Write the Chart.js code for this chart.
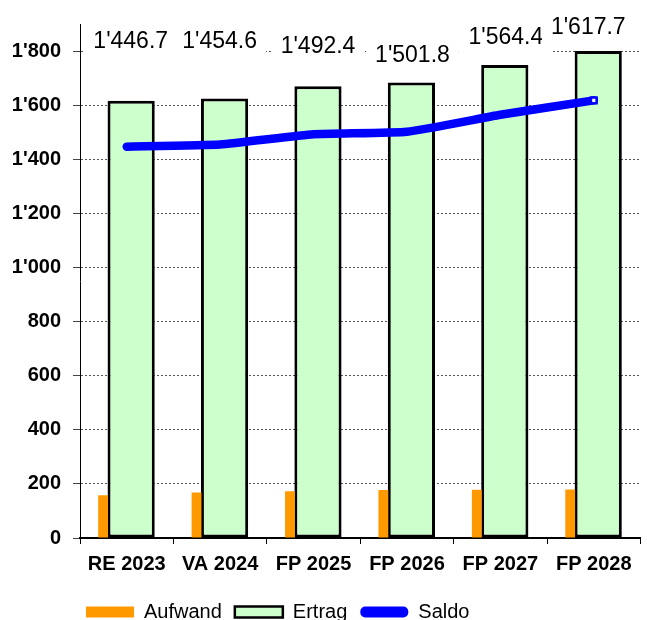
<!DOCTYPE html>
<html><head><meta charset="utf-8">
<script src="https://cdn.jsdelivr.net/npm/chart.js@4"></script>
<style>
html,body{margin:0;padding:0;background:#fff;overflow:hidden}
#wrap{position:relative;width:647px;height:632px}
</style></head>
<body><div id="wrap"><canvas id="c"></canvas></div>
<script>
const categories = ['RE 2023','VA 2024','FP 2025','FP 2026','FP 2027','FP 2028'];
const aufwand = [158, 168, 173, 177, 178, 179];
const ertrag = [1616, 1625, 1670, 1684, 1748, 1800];
const saldo = [1446.7, 1454.6, 1492.4, 1501.8, 1564.4, 1617.7];
const yTicks = [0, 200, 400, 600, 800, 1000, 1200, 1400, 1600, 1800];

function fmt(v, d) {
  const s = Number(v).toFixed(d);
  const parts = s.split('.');
  parts[0] = parts[0].replace(/\B(?=(\d{3})+(?!\d))/g, "'");
  return parts.join('.');
}

// label placement (pixels) relative to category centre / Ertrag bar top
const labelDx = [4, -0.5, 4.5, 5.5, 5.5, -5.5];
const labelLift = [61, 59, 41, 29, 29, 25];

const saldoLabelPlugin = {
  id: 'saldoLabels',
  afterLayout(chart) {
    // legend starts a little left of the plot area, like the original
    if (chart.legend) { chart.legend.left = 73; }
  },
  afterDatasetsDraw(chart) {
    const ctx = chart.ctx;
    const meta = chart.getDatasetMeta(1);
    const xs = chart.scales.x;
    ctx.save();
    ctx.font = '23px "Liberation Sans", Arial, sans-serif';
    ctx.textAlign = 'center';
    ctx.textBaseline = 'alphabetic';
    saldo.forEach((v, i) => {
      const x = xs.getPixelForValue(i) + labelDx[i];
      const cy = meta.data[i].y - labelLift[i];
      const t = fmt(v, 1);
      const w = ctx.measureText(t).width;
      ctx.fillStyle = '#fff';
      ctx.fillRect(x - w / 2 - 9, cy - 16, w + 18, 32);
      ctx.fillStyle = '#000';
      ctx.fillText(t, x, cy + 8.2);
    });
    ctx.restore();
  }
};

Chart.defaults.font.family = '"Liberation Sans", Arial, sans-serif';
Chart.defaults.color = '#000';

new Chart(document.getElementById('c'), {
  data: {
    labels: categories,
    datasets: [
      {
        type: 'bar', label: 'Aufwand', data: aufwand,
        backgroundColor: '#ff9900', borderWidth: 0,
        categoryPercentage: 1.0105, barPercentage: 0.2083, order: 1
      },
      {
        type: 'bar', label: 'Ertrag', data: ertrag,
        backgroundColor: '#ccffcc', borderColor: '#000', borderWidth: 3, borderSkipped: false,
        categoryPercentage: 0.1895, barPercentage: 5.333, order: 1
      },
      {
        type: 'line', label: 'Saldo', data: saldo,
        borderColor: '#0000ff', backgroundColor: '#0000ff', borderWidth: 8.5,
        tension: 0.15, borderCapStyle: 'round', borderJoinStyle: 'round',
        pointStyle: 'rect',
        pointRadius: c => c.dataIndex === saldo.length - 1 ? 4 : 0,
        pointBackgroundColor: '#fff', pointBorderColor: '#0000ff', pointBorderWidth: 2.5,
        order: 0
      }
    ]
  },
  options: {
    responsive: true,
    maintainAspectRatio: false,
    animation: false,
    layout: { padding: { left: 0, right: -3, top: 22, bottom: 0 } },
    scales: {
      x: {
        offset: true,
        grid: { offset: true, drawOnChartArea: false, drawTicks: true, tickLength: 6, color: '#000' },
        border: { color: '#000', width: 2 },
        ticks: { font: { size: 20, weight: 'bold' }, color: '#000', padding: 8, maxRotation: 0, autoSkip: false },
        afterFit: s => { s.height = 51; }
      },
      y: {
        min: 0, max: 1900,
        afterBuildTicks: s => { s.ticks = yTicks.map(v => ({ value: v })); },
        afterFit: s => { s.width = 80; },
        grid: { color: '#555', lineWidth: 1, tickLength: 7, tickColor: '#444', tickBorderDash: [] },
        border: { color: '#000', width: 1, dash: [2, 2] },
        ticks: { padding: 12, font: { size: 20, weight: 'bold' }, color: '#000', callback: v => fmt(v, 0) }
      }
    },
    plugins: {
      tooltip: { enabled: false },
      legend: {
        position: 'bottom', align: 'start',
        labels: {
          font: { size: 20 }, color: '#000', boxWidth: 48, boxHeight: 11, padding: 13,
          useBorderRadius: true,
          sort: (a, b) => a.datasetIndex - b.datasetIndex,
          generateLabels: chart => {
            const items = Chart.defaults.plugins.legend.labels.generateLabels(chart);
            items.forEach(it => {
              if (it.datasetIndex === 0) { it.lineWidth = 0; it.strokeStyle = '#ff9900'; it.borderRadius = 0; }
              if (it.datasetIndex === 1) { it.lineWidth = 2.5; it.strokeStyle = '#000'; it.borderRadius = 0; }
              if (it.datasetIndex === 2) { it.lineWidth = 0; it.fillStyle = '#0000ff'; it.borderRadius = 5; }
            });
            return items;
          }
        }
      }
    }
  },
  plugins: [saldoLabelPlugin]
});
</script>
</body></html>
